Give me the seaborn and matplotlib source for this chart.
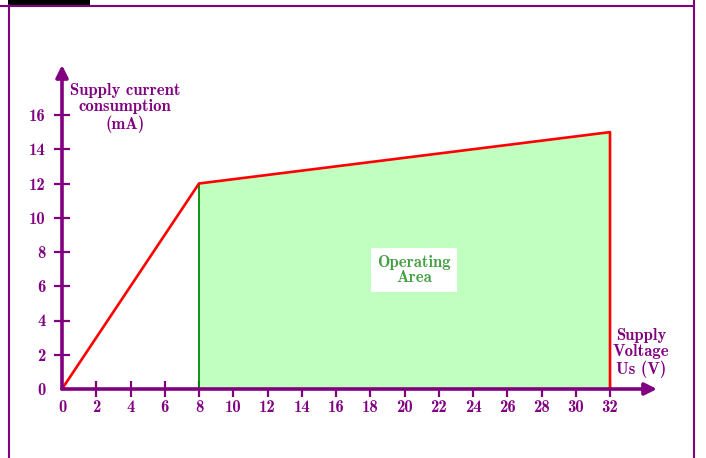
import matplotlib
matplotlib.use("Agg")
import matplotlib.pyplot as plt
import seaborn as sns
import numpy as np
from matplotlib.patches import Rectangle
from matplotlib.lines import Line2D

# ---- data ----
curve_x = [0, 8, 32, 32]
curve_y = [0, 12, 15, 0]
area_x = [8, 32]
area_y = [12, 15]
x_ticks = list(range(0, 33, 2))
y_ticks = list(range(0, 17, 2))
y_label_lines = "Supply current\nconsumption\n(mA)"
x_label_lines = "Supply\nVoltage\nUs (V)"
area_label = "Operating\nArea"

purple = "#800080"
FONT = "cmb10"
FS = 12

sns.set_theme(style="white")
plt.rcParams["font.family"] = [FONT, "DejaVu Serif"]
plt.rcParams["axes.unicode_minus"] = False

W, H = 706, 458
fig = plt.figure(figsize=(W / 100, H / 100), dpi=100)
ax = fig.add_axes([0, 0, 1, 1])

ox, oy, s = 62.0, 389.0, 17.125
ax.set_xlim(-ox / s, (W - ox) / s)
ax.set_ylim(-(H - oy) / s, oy / s)

for sp in ax.spines.values():
    sp.set_visible(False)
ax.set_facecolor("white")

# fill and lines
ax.fill_between(area_x, [0, 0], area_y, color="#c0ffc0", lw=0, zorder=1)
ax.plot([area_x[0], area_x[0]], [0, area_y[0]], color="#008a00", lw=1.3, zorder=2)
sns.lineplot(x=curve_x, y=curve_y, sort=False, estimator=None, color="#ff0000",
             lw=1.9, ax=ax, zorder=3)

# axes arrows
arrow_kw = dict(arrowstyle="-|>", lw=2.6, color=purple, mutation_scale=18,
                shrinkA=0, shrinkB=0)
ax.annotate("", xy=((657 - ox) / s, 0), xytext=(0, 0), arrowprops=arrow_kw, zorder=5)
ax.annotate("", xy=(0, (oy - 65) / s), xytext=(0, 0), arrowprops=arrow_kw, zorder=5)

# ticks
ax.spines["left"].set_position(("data", 0))
ax.spines["bottom"].set_position(("data", 0))
ax.set_xticks(x_ticks)
ax.set_yticks(y_ticks)
ax.set_xticklabels([str(v) for v in x_ticks])
ax.set_yticklabels([str(v) for v in y_ticks])
ax.tick_params(axis="both", direction="inout", length=11.5, width=1.6,
               colors=purple, labelsize=FS, zorder=6, bottom=True, left=True,
               top=False, right=False)
ax.tick_params(axis="x", pad=2)
ax.tick_params(axis="y", pad=6)
ax.xaxis.get_major_ticks()[0].tick1line.set_visible(False)
ax.yaxis.get_major_ticks()[0].tick1line.set_visible(False)
for lab in ax.get_xticklabels() + ax.get_yticklabels():
    lab.set_color(purple)
    lab.set_fontfamily(FONT)
ax.grid(False)

# labels
ax.text((125 - ox) / s, (oy - 108) / s, y_label_lines, ha="center", va="center",
        color=purple, fontsize=FS, fontfamily=FONT, linespacing=1.12)
ax.text((641 - ox) / s, (oy - 353) / s, x_label_lines, ha="center", va="center",
        color=purple, fontsize=FS, fontfamily=FONT, linespacing=1.12)
ax.text((414 - ox) / s, (oy - 270) / s, area_label, ha="center", va="center",
        color="#44a044", fontsize=FS, fontfamily=FONT, linespacing=1.05, zorder=7,
        bbox=dict(boxstyle="square,pad=0.4", fc="white", ec="none"))

# frame
ft = fig.transFigure
fig.add_artist(Line2D([0, 694 / W], [1 - 5.5 / H, 1 - 5.5 / H], color=purple, lw=1.5, transform=ft))
fig.add_artist(Line2D([8.8 / W, 8.8 / W], [1 - 5 / H, 0], color=purple, lw=1.5, transform=ft))
fig.add_artist(Line2D([694 / W, 694 / W], [1, 0], color=purple, lw=1.5, transform=ft))
fig.add_artist(Rectangle((8 / W, 1 - 6 / H), 82 / W, 6 / H, color="black", transform=ft, lw=0))

fig.savefig("out.png", dpi=100)
